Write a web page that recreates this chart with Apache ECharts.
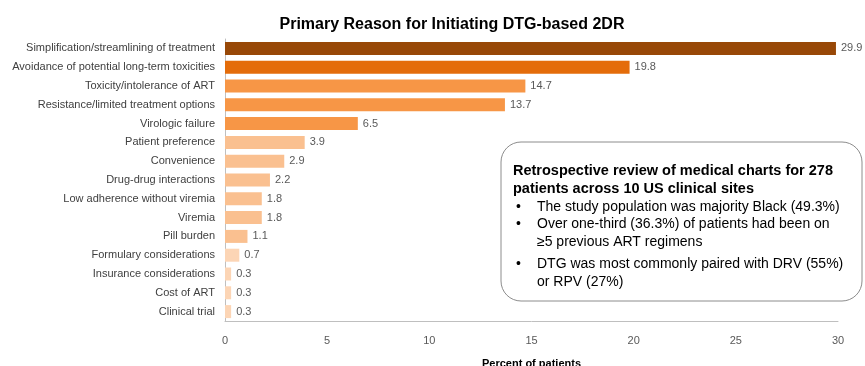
<!DOCTYPE html>
<html>
<head>
<meta charset="utf-8">
<script src="https://cdn.jsdelivr.net/npm/echarts@6/dist/echarts.min.js"></script>
<style>
  html, body { margin: 0; padding: 0; background: #ffffff; }
  #chart { width: 865px; height: 366px; }
</style>
</head>
<body>
<div id="chart"></div>
<script>
// Reasons for starting a dolutegravir-based two-drug regimen
const reasons = [
  'Simplification/streamlining of treatment',
  'Avoidance of potential long-term toxicities',
  'Toxicity/intolerance of ART',
  'Resistance/limited treatment options',
  'Virologic failure',
  'Patient preference',
  'Convenience',
  'Drug-drug interactions',
  'Low adherence without viremia',
  'Viremia',
  'Pill burden',
  'Formulary considerations',
  'Insurance considerations',
  'Cost of ART',
  'Clinical trial'
];
const percents = [29.9, 19.8, 14.7, 13.7, 6.5, 3.9, 2.9, 2.2, 1.8, 1.8, 1.1, 0.7, 0.3, 0.3, 0.3];
const barColors = [
  '#984807', '#E46C0A', '#F79646', '#F79646', '#F79646',
  '#FAC090', '#FAC090', '#FAC090', '#FAC090', '#FAC090', '#FAC090',
  '#FCD5B5', '#FCD5B5', '#FCD5B5', '#FCD5B5'
];
const xTicks = [0, 5, 10, 15, 20, 25, 30];

const noteHeader = [
  'Retrospective review of medical charts for 278',
  'patients across 10 US clinical sites'
];
const noteBullets = [
  ['The study population was majority Black (49.3%)'],
  ['Over one-third (36.3%) of patients had been on', '\u22655 previous ART regimens'],
  ['DTG was most commonly paired with DRV (55%)', 'or RPV (27%)']
];

const FONT = '"Liberation Sans", Arial, sans-serif';

// Text box overlay
const graphics = [{
  type: 'rect',
  shape: { x: 501, y: 142, width: 361, height: 159, r: 20 },
  style: { fill: '#ffffff', stroke: '#8c8c8c', lineWidth: 1 },
  z: 10
}];
let y = 171;
noteHeader.forEach(function (line) {
  graphics.push({
    type: 'text', x: 513, y: y, z: 11,
    style: { text: line, font: 'bold 14.5px ' + FONT, fill: '#000000', verticalAlign: 'middle' }
  });
  y += 17.5;
});
y += 1;
noteBullets.forEach(function (lines, bi) {
  if (bi === 2) y += 5;
  lines.forEach(function (line, li) {
    if (li === 0) {
      graphics.push({
        type: 'text', x: 516, y: y, z: 11,
        style: { text: '\u2022', font: '14px ' + FONT, fill: '#000000', verticalAlign: 'middle' }
      });
    }
    graphics.push({
      type: 'text', x: 537, y: y, z: 11,
      style: { text: line, font: '14px ' + FONT, fill: '#000000', verticalAlign: 'middle' }
    });
    y += 17.5;
  });
});

const chart = echarts.init(document.getElementById('chart'), null, { renderer: 'canvas' });
chart.setOption({
  animation: false,
  backgroundColor: '#ffffff',
  title: {
    text: 'Primary Reason for Initiating DTG-based 2DR',
    left: 447, top: 12, textAlign: 'center',
    textStyle: { fontFamily: FONT, fontSize: 16, fontWeight: 'bold', color: '#000000' }
  },
  grid: { left: 225, right: 27, top: 39, bottom: 45, outerBoundsMode: 'none', containLabel: false },
  xAxis: {
    type: 'value', min: 0, max: 30, interval: 5,
    name: 'Percent of patients', nameLocation: 'middle', nameGap: 37,
    nameTextStyle: { fontFamily: FONT, fontSize: 11, fontWeight: 'bold', color: '#000000' },
    axisLine: { show: true, lineStyle: { color: '#bfbfbf' } },
    axisTick: { show: false },
    splitLine: { show: false },
    axisLabel: {
      margin: 14, fontFamily: FONT, fontSize: 11, color: '#595959',
      formatter: function (v) { return xTicks.indexOf(v) >= 0 ? String(v) : ''; }
    }
  },
  yAxis: {
    type: 'category', data: reasons, inverse: true,
    axisLine: { show: true, lineStyle: { color: '#bfbfbf' } },
    axisTick: { show: false },
    axisLabel: { margin: 10, fontFamily: FONT, fontSize: 11, color: '#404040' }
  },
  series: [{
    type: 'bar',
    data: percents.map(function (v, i) { return { value: v, itemStyle: { color: barColors[i] } }; }),
    barWidth: 13,
    label: {
      show: true, position: 'right', distance: 5,
      fontFamily: FONT, fontSize: 11, color: '#595959',
      formatter: function (p) { return p.value.toFixed(1); }
    }
  }],
  graphic: graphics
});
</script>
</body>
</html>
